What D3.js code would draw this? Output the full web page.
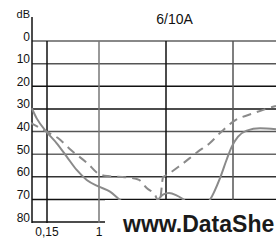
<!DOCTYPE html>
<html>
<head>
<meta charset="utf-8">
<script src="https://d3js.org/d3.v7.min.js"></script>
<style>
	body { margin: 0; background: #fff; }
	text { font-family: "Liberation Sans", Arial, sans-serif; }
</style>
</head>
<body>
<div id="dataviz-container"></div>
<script>
var title = "6/10A",
	unitLabel = "dB";

var freqTicks = [0.15, 1, 10, 100],
	freqLabels = ["0,15", "1", "", ""];

var dbTicks = [0, 10, 20, 30, 40, 50, 60, 70, 80];

// [MHz, dB]
var solidCurve = [
	[0.086, 29.7], [0.103, 34.2], [0.15, 40.4], [0.214, 45.2], [0.308, 51.1],
	[0.443, 57], [0.639, 61.4], [1.0, 64.4], [1.46, 66.6], [2.06, 70.3],
	[3.0, 73.5], [4.5, 74.5], [6.2, 73], [7.6, 70.3], [9.0, 67.9],
	[11.1, 67.2], [14.1, 68.1], [17.9, 69.9], [24, 73], [32, 73.5],
	[45, 70.3], [64, 60.6], [80, 52.6], [96, 46.7], [119, 42.3],
	[160, 39.6], [253, 38.6], [438, 39.0]
];

var dashedCurve = [
	[0.081, 36.1], [0.15, 40.2], [0.224, 42.9], [0.36, 48.2], [0.66, 54.1],
	[1.0, 58.8], [1.36, 59.7], [2.44, 60.2], [2.9, 60.4], [3.96, 61.4],
	[5.15, 65], [6.85, 68], [8.0, 71.6], [9.07, 60.1], [10, 59.4],
	[16.7, 54.8], [30, 48.9], [45.3, 45.1], [63.9, 40.7], [103, 35.4],
	[199, 32], [382, 29.2], [438, 28.7]
];

// only this much of the watermark is visible in the picture
var watermark = "www.DataShe";

var width = 276,
	height = 240,
	left = 32,
	top0 = 41,
	bottom = 222;

var svg = d3.select("#dataviz-container")
	.append("svg")
	.attr("width", width)
	.attr("height", height)

var xScale = d3.scaleLog()
	.domain(freqTicks)
	.range([47, 99, 166, 233])

var yScale = d3.scaleLinear()
	.domain([0, 80])
	.range([top0, bottom])

var hColors = ["#888", "#555", "#111", "#111", "#555", "#666", "#333", "#111", "#111"],
	vColors = ["#111", "#777", "#111", "#555"];

svg.append("defs").append("clipPath")
	.attr("id", "plot")
	.append("rect")
	.attr("x", left - 1)
	.attr("y", 0)
	.attr("width", width - left + 1)
	.attr("height", bottom + 2)

svg.selectAll("line.h")
	.data(dbTicks)
	.enter()
	.append("line")
	.attr("class", "h")
	.attr("x1", left)
	.attr("x2", width)
	.attr("y1", function(d) { return yScale(d); })
	.attr("y2", function(d) { return yScale(d); })
	.style("stroke", function(d, i) { return hColors[i]; })
	.style("stroke-width", function(d, i) { return i == 0 ? 2 : 1.5; })

svg.selectAll("line.v")
	.data(freqTicks)
	.enter()
	.append("line")
	.attr("class", "v")
	.attr("x1", function(d) { return xScale(d); })
	.attr("x2", function(d) { return xScale(d); })
	.attr("y1", top0)
	.attr("y2", bottom + 1)
	.style("stroke", function(d, i) { return vColors[i]; })
	.style("stroke-width", 1.5)

svg.append("line")
	.attr("x1", left)
	.attr("x2", left)
	.attr("y1", 17)
	.attr("y2", bottom + 1)
	.style("stroke", "#111")
	.style("stroke-width", 1.5)

var line = d3.line()
	.x(function(d) { return xScale(d[0]); })
	.y(function(d) { return yScale(d[1]); })
	.curve(d3.curveMonotoneX)

svg.append("path")
	.attr("d", line(solidCurve))
	.attr("clip-path", "url(#plot)")
	.style("fill", "none")
	.style("stroke", "#8a8a8a")
	.style("stroke-width", 2)

svg.append("path")
	.attr("d", line(dashedCurve))
	.attr("clip-path", "url(#plot)")
	.style("fill", "none")
	.style("stroke", "#8a8a8a")
	.style("stroke-width", 2)
	.style("stroke-dasharray", "9,6")

// watermark box covering the lower right corner
svg.append("rect")
	.attr("x", 105)
	.attr("y", 200)
	.attr("width", width - 105)
	.attr("height", height - 200)
	.style("fill", "#fff")

svg.append("text")
	.text(watermark)
	.attr("x", 123)
	.attr("y", 232)
	.style("font-size", "23px")
	.style("font-weight", "bold")
	.style("fill", "#1a1a1a")

svg.selectAll("text.ylab")
	.data(dbTicks)
	.enter()
	.append("text")
	.attr("class", "ylab")
	.text(function(d) { return d; })
	.attr("x", 30)
	.attr("y", function(d) { return yScale(d) - 0.5; })
	.style("text-anchor", "end")
	.style("font-size", "12px")
	.style("fill", "#111")

svg.selectAll("text.xlab")
	.data(freqTicks)
	.enter()
	.append("text")
	.attr("class", "xlab")
	.text(function(d, i) { return freqLabels[i]; })
	.attr("x", function(d) { return xScale(d); })
	.attr("y", 236)
	.style("text-anchor", "middle")
	.style("font-size", "12px")
	.style("fill", "#111")

svg.append("text")
	.text(unitLabel)
	.attr("x", 30)
	.attr("y", 18)
	.style("text-anchor", "end")
	.style("font-size", "11px")
	.style("fill", "#111")

svg.append("text")
	.text(title)
	.attr("x", 174.5)
	.attr("y", 24)
	.style("text-anchor", "middle")
	.style("font-size", "14px")
	.style("fill", "#111")
</script>
</body>
</html>
